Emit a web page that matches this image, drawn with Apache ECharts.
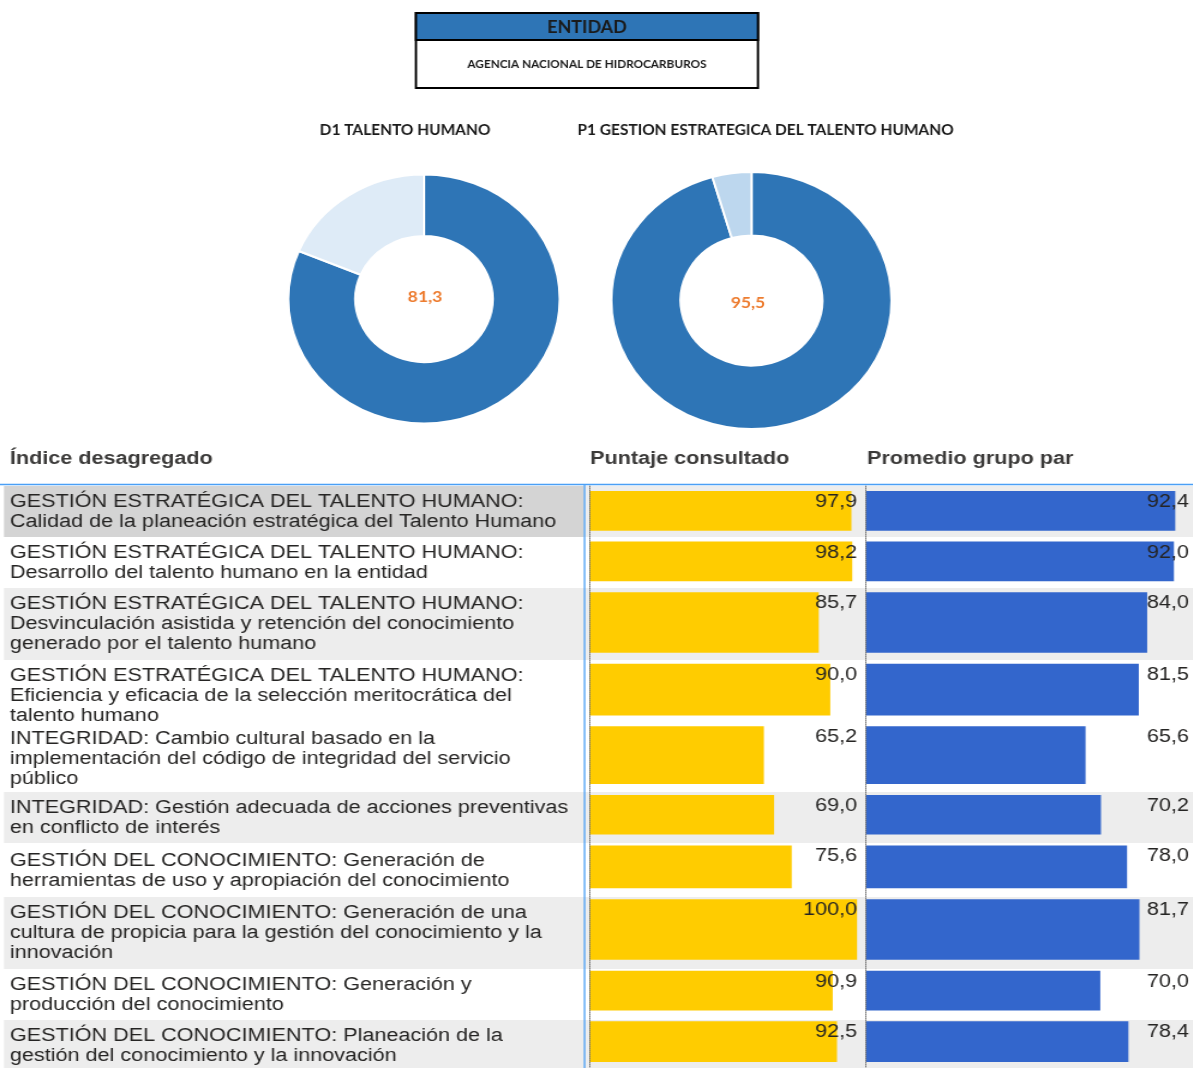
<!DOCTYPE html>
<html>
<head>
<meta charset="utf-8">
<title>Talento Humano - Índice desagregado</title>
<script src="https://cdn.jsdelivr.net/npm/echarts@6/dist/echarts.min.js"></script>
<style>
  html, body { margin: 0; padding: 0; background: #fff; overflow: hidden; }
  /* the reference is stretched horizontally, so each block is drawn narrower and scaled */
  #top { position: absolute; left: 0; top: 0; width: 1095px; height: 440px; transform: scaleX(1.09); transform-origin: 0 0; }
  #table { position: absolute; left: 0; top: 440px; width: 995px; height: 628px; transform: scaleX(1.2); transform-origin: 0 0; }
</style>
</head>
<body>
<div id="top"></div>
<div id="table"></div>
<script>
/* ---------------------------------- data ---------------------------------- */
const entidad = 'AGENCIA NACIONAL DE HIDROCARBUROS';
const kpiTitles = ['D1 TALENTO HUMANO', 'P1 GESTION ESTRATEGICA DEL TALENTO HUMANO'];
const kpiValues = [81.3, 95.5];

const columnTitles = ['Índice desagregado', 'Puntaje consultado', 'Promedio grupo par'];
const indices = [
  'GESTIÓN ESTRATÉGICA DEL TALENTO HUMANO:\nCalidad de la planeación estratégica del Talento Humano',
  'GESTIÓN ESTRATÉGICA DEL TALENTO HUMANO:\nDesarrollo del talento humano en la entidad',
  'GESTIÓN ESTRATÉGICA DEL TALENTO HUMANO:\nDesvinculación asistida y retención del conocimiento\ngenerado por el talento humano',
  'GESTIÓN ESTRATÉGICA DEL TALENTO HUMANO:\nEficiencia y eficacia de la selección meritocrática del\ntalento humano',
  'INTEGRIDAD: Cambio cultural basado en la\nimplementación del código de integridad del servicio\npúblico',
  'INTEGRIDAD: Gestión adecuada de acciones preventivas\nen conflicto de interés',
  'GESTIÓN DEL CONOCIMIENTO: Generación de\nherramientas de uso y apropiación del conocimiento',
  'GESTIÓN DEL CONOCIMIENTO: Generación de una\ncultura de propicia para la gestión del conocimiento y la\ninnovación',
  'GESTIÓN DEL CONOCIMIENTO: Generación y\nproducción del conocimiento',
  'GESTIÓN DEL CONOCIMIENTO: Planeación de la\ngestión del conocimiento y la innovación'
];
const puntaje = [97.9, 98.2, 85.7, 90.0, 65.2, 69.0, 75.6, 100.0, 90.9, 92.5];
const promedio = [92.4, 92.0, 84.0, 81.5, 65.6, 70.2, 78.0, 81.7, 70.0, 78.4];

/* --------------------------------- layout --------------------------------- */
const BLUE = '#2E75B6';
const ORANGE = '#ED7D31';
const TXT = '#252423';
const TOP_FONT = 'Lato, "Open Sans", sans-serif';
const TAB_FONT = '"Liberation Sans", Arial, sans-serif';

// row heights follow the wrapped text; the last row is cut by the picture edge
const ROW_H = [51, 51, 72, 63, 69, 51, 54, 72, 51, 52];
const ROW_TOP = [];
let acc = 0;
ROW_H.forEach(h => { ROW_TOP.push(acc); acc += h; });
const TABLE_H = acc;
const TABLE_Y = 46;
const GREY_ROWS = [2, 5, 7, 9];

const fmt = v => v.toFixed(1).replace('.', ',');

/* ------------------------------ header + donuts ---------------------------- */
const topChart = echarts.init(document.getElementById('top'));
const donutCenters = [[389, 299], [689.4, 300.5]];
const donutRadius = [[63, 124.5], [65, 128.5]];
const restColors = ['#DEEBF7', '#BDD7EE'];

topChart.setOption({
  animation: false,
  graphic: [
    { type: 'rect', shape: { x: 381.6, y: 13, width: 313.8, height: 75 },
      style: { fill: '#fff', stroke: '#000', lineWidth: 2 } },
    { type: 'rect', shape: { x: 381.6, y: 13, width: 313.8, height: 27 },
      style: { fill: BLUE, stroke: '#000', lineWidth: 2 } },
    { type: 'text', x: 538.5, y: 28,
      style: { text: 'ENTIDAD', font: 'bold 16.5px ' + TOP_FONT, fill: '#1a1a1a', align: 'center', verticalAlign: 'middle' } },
    { type: 'text', x: 538.5, y: 65,
      style: { text: entidad, font: 'bold 10.8px ' + TOP_FONT, fill: '#1a1a1a', align: 'center', verticalAlign: 'middle' } },
    { type: 'text', x: 371.6, y: 130,
      style: { text: kpiTitles[0], font: 'bold 14.2px ' + TOP_FONT, fill: '#1a1a1a', align: 'center', verticalAlign: 'middle' } },
    { type: 'text', x: 702.3, y: 130,
      style: { text: kpiTitles[1], font: 'bold 14.2px ' + TOP_FONT, fill: '#1a1a1a', align: 'center', verticalAlign: 'middle' } },
    { type: 'text', x: 389.9, y: 297,
      style: { text: fmt(kpiValues[0]), font: 'bold 16px ' + TOP_FONT, fill: ORANGE, align: 'center', verticalAlign: 'middle' } },
    { type: 'text', x: 686.2, y: 303,
      style: { text: fmt(kpiValues[1]), font: 'bold 16px ' + TOP_FONT, fill: ORANGE, align: 'center', verticalAlign: 'middle' } }
  ],
  series: kpiValues.map((v, i) => ({
    type: 'pie',
    silent: true,
    center: donutCenters[i],
    radius: donutRadius[i],
    startAngle: 90,
    clockwise: true,
    label: { show: false },
    labelLine: { show: false },
    itemStyle: { borderColor: '#fff', borderWidth: 2 },
    data: [
      { value: v, itemStyle: { color: BLUE } },
      { value: +(100 - v).toFixed(1), itemStyle: { color: restColors[i] } }
    ]
  }))
});

/* ---------------------------------- table --------------------------------- */
const tableChart = echarts.init(document.getElementById('table'));

const rowBackgrounds = [];
ROW_H.forEach((h, i) => {
  const y = TABLE_Y + ROW_TOP[i];
  if (i === 0) {
    rowBackgrounds.push({ type: 'rect', shape: { x: 3.3, y, width: 483.5, height: h }, style: { fill: '#d4d4d4' } });
    rowBackgrounds.push({ type: 'rect', shape: { x: 487, y, width: 508, height: h }, style: { fill: '#ededed' } });
  } else if (GREY_ROWS.includes(i)) {
    rowBackgrounds.push({ type: 'rect', shape: { x: 3.3, y, width: 992, height: h }, style: { fill: '#ededed' } });
  }
});

const rowTexts = indices.map((t, i) => ({
  type: 'text', x: 8.3, y: TABLE_Y + ROW_TOP[i] + (i === 6 ? 8 : 6),
  style: { text: t, font: '18px ' + TAB_FONT, lineHeight: 20, fill: TXT, verticalAlign: 'top' }
}));

const headerX = [8.3, 491.7, 722.5];
const headers = columnTitles.map((t, i) => ({
  type: 'text', x: headerX[i], y: 19,
  style: { text: t, font: 'bold 18px ' + TAB_FONT, fill: '#3b3a39', verticalAlign: 'middle' }
}));

const selLines = [
  { type: 'line', shape: { x1: 0, y1: 44.5, x2: 995, y2: 44.5 }, style: { stroke: '#4a9ff5', lineWidth: 1.5 }, z: 5 },
  { type: 'line', shape: { x1: 487.1, y1: 44.5, x2: 487.1, y2: 628 }, style: { stroke: '#4a9ff5', lineWidth: 1.3 }, z: 5 }
];

function barRenderer(color) {
  return function (params, api) {
    const v = api.value(0);
    const i = api.value(1);
    const p0 = api.coord([0, ROW_TOP[i] + 5]);
    const p1 = api.coord([v, ROW_TOP[i] + ROW_H[i] - 6]);
    const cs = params.coordSys;
    return {
      type: 'group',
      children: [
        { type: 'rect', shape: { x: p0[0], y: p0[1], width: p1[0] - p0[0], height: p1[1] - p0[1] },
          style: { fill: color } },
        { type: 'text', z2: 10,
          style: { text: fmt(v), x: cs.x + cs.width, y: api.coord([0, ROW_TOP[i] + 16])[1],
                   font: '18px ' + TAB_FONT, fill: TXT, align: 'right', verticalAlign: 'middle' } }
      ]
    };
  };
}

const yAxisBase = {
  type: 'value', min: 0, max: TABLE_H, inverse: true, z: 3,
  axisLine: { show: true, lineStyle: { type: 'dotted', color: '#6f6f6f', width: 1 } },
  axisTick: { show: false }, axisLabel: { show: false }, splitLine: { show: false }
};

tableChart.setOption({
  animation: false,
  grid: [
    { left: 491.1, top: TABLE_Y, width: 223.1, height: TABLE_H },
    { left: 721.7, top: TABLE_Y, width: 269.1, height: TABLE_H }
  ],
  xAxis: [
    { gridIndex: 0, type: 'value', min: 0, max: 100, show: false },
    { gridIndex: 1, type: 'value', min: 0, max: 96.5, show: false }
  ],
  yAxis: [
    Object.assign({ gridIndex: 0 }, yAxisBase),
    Object.assign({ gridIndex: 1 }, yAxisBase)
  ],
  graphic: [].concat(rowBackgrounds, headers, rowTexts, selLines),
  series: [
    {
      name: 'Puntaje consultado', type: 'custom', silent: true,
      xAxisIndex: 0, yAxisIndex: 0,
      encode: { x: 0, y: 1 },
      renderItem: barRenderer('#FFCC00'),
      data: puntaje.map((v, i) => [v, i])
    },
    {
      name: 'Promedio grupo par', type: 'custom', silent: true,
      xAxisIndex: 1, yAxisIndex: 1,
      encode: { x: 0, y: 1 },
      renderItem: barRenderer('#3366CC'),
      data: promedio.map((v, i) => [v, i])
    }
  ]
});
</script>
</body>
</html>
